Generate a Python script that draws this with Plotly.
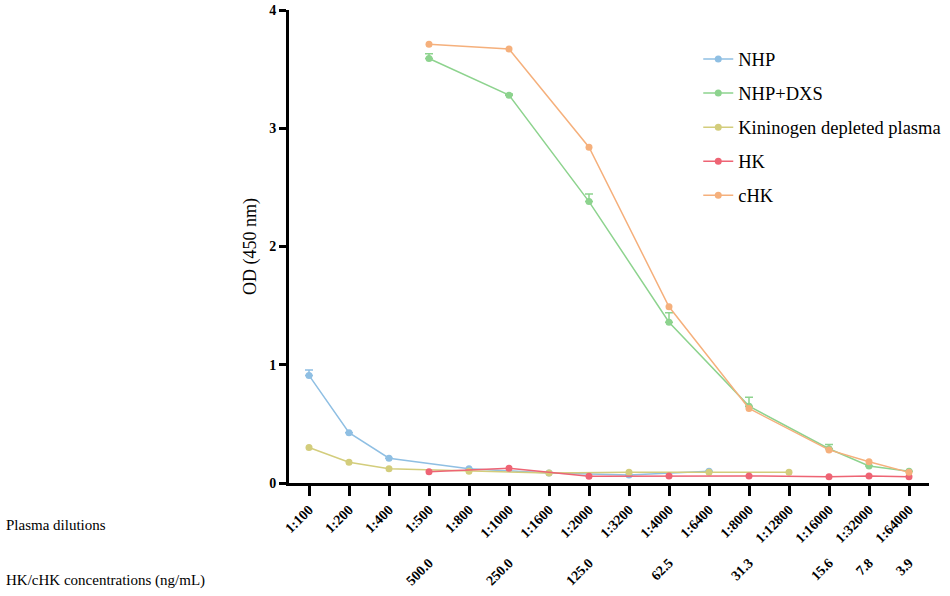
import plotly.graph_objects as go

dilutions = ["1:100", "1:200", "1:400", "1:500", "1:800", "1:1000", "1:1600", "1:2000",
             "1:3200", "1:4000", "1:6400", "1:8000", "1:12800", "1:16000", "1:32000", "1:64000"]
conc_dilutions = ["1:500", "1:1000", "1:2000", "1:4000", "1:8000", "1:16000", "1:32000", "1:64000"]
conc_labels = ["500.0", "250.0", "125.0", "62.5", "31.3", "15.6", "7.8", "3.9"]

N = None
nhp =      [0.91, 0.425, 0.21, N, 0.12, N, 0.085, N, 0.068, N, 0.10, N, N, N, N, N]
nhp_err =  [0.045, 0, 0, N, 0, N, 0, N, 0, N, 0, N, N, N, N, N]
nhp_dxs =  [N, N, N, 3.59, N, 3.28, N, 2.38, N, 1.36, N, 0.65, N, 0.29, 0.144, 0.10]
dxs_err =  [N, N, N, 0.04, N, 0.01, N, 0.065, N, 0.08, N, 0.075, N, 0.035, 0, 0]
kdp =      [0.30, 0.175, 0.12, N, 0.10, N, 0.085, N, 0.09, N, 0.09, N, 0.09, N, N, N]
hk =       [N, N, N, 0.095, N, 0.125, N, 0.057, N, 0.06, N, 0.06, N, 0.053, 0.06, 0.053]
chk =      [N, N, N, 3.71, N, 3.67, N, 2.84, N, 1.49, N, 0.63, N, 0.28, 0.18, 0.09]

series = [
    ("NHP", nhp, nhp_err, "#8fbfe3"),
    ("NHP+DXS", nhp_dxs, dxs_err, "#8dd38e"),
    ("Kininogen depleted plasma", kdp, None, "#d3cd7c"),
    ("HK", hk, None, "#ee6474"),
    ("cHK", chk, None, "#f5b07c"),
]

fig = go.Figure()
for name, ys, err, color in series:
    kw = {}
    if err is not None:
        kw["error_y"] = dict(type="data", array=err, arrayminus=[0 if e is not None else None for e in err],
                             symmetric=False, color=color, thickness=1.5, width=4)
    fig.add_trace(go.Scatter(
        x=dilutions, y=ys, name=name, mode="lines+markers", connectgaps=True,
        legendgroup=name,
        line=dict(color=color, width=1.5),
        marker=dict(color=color, size=7),
        **kw))

# invisible trace carrying the second (concentration) label axis
fig.add_trace(go.Scatter(x=conc_dilutions, y=[None] * len(conc_dilutions), xaxis="x2", yaxis="y",
                         showlegend=False, hoverinfo="skip", mode="markers"))

serif = "Liberation Serif, Times New Roman, serif"

annotations = [
    dict(text="Plasma dilutions", xref="paper", yref="paper", x=(4 - 289) / 640, y=(483 - 525) / 473,
         xanchor="left", yanchor="middle", showarrow=False, font=dict(family=serif, size=15, color="black")),
    dict(text="HK/cHK concentrations (ng/mL)", xref="paper", yref="paper", x=(4 - 289) / 640,
         y=(483 - 580) / 473, xanchor="left", yanchor="middle", showarrow=False,
         font=dict(family=serif, size=15, color="black")),
]

fig.update_layout(
    width=950, height=596,
    margin=dict(l=289, r=21, t=10, b=113, autoexpand=False),
    plot_bgcolor="white", paper_bgcolor="white",
    font=dict(family=serif, color="black"),
    showlegend=True,
    legend=dict(xref="container", yref="container", x=0.735, y=0.932, xanchor="left", yanchor="top",
                font=dict(family=serif, size=18.5), tracegroupgap=7, bgcolor="rgba(0,0,0,0)"),
    annotations=annotations,
    xaxis=dict(type="category", categoryorder="array", categoryarray=dilutions, range=[-0.5, 15.5],
               tickmode="array", tickvals=dilutions, ticktext=["<b>" + d + "</b>" for d in dilutions],
               tickangle=-45, tickfont=dict(family=serif, size=14, color="black"), automargin=False,
               showline=True, linecolor="black", linewidth=3, ticks="outside", ticklen=10, tickwidth=3,
               tickcolor="black", showgrid=False, zeroline=False),
    xaxis2=dict(type="category", categoryorder="array", categoryarray=dilutions, range=[-0.5, 15.5],
                overlaying="x", anchor="y", side="bottom", matches="x",
                tickmode="array", tickvals=conc_dilutions, ticktext=["<b>" + c + "</b>" for c in conc_labels],
                tickangle=-45, tickfont=dict(family=serif, size=14, color="black"), automargin=False,
                ticks="", showline=False, showgrid=False, zeroline=False, ticklabelstandoff=68),
    yaxis=dict(range=[0, 4], tickvals=[0, 1, 2, 3, 4], ticktext=["<b>%d</b>" % v for v in range(5)],
               tickfont=dict(family=serif, size=14, color="black"), automargin=False,
               title=dict(text="OD (450 nm)", font=dict(family=serif, size=18, color="black"), standoff=8),
               showline=True, linecolor="black", linewidth=3, ticks="outside", ticklen=7, tickwidth=3,
               tickcolor="black", showgrid=False, zeroline=False),
)

fig.write_html("out.html", config={"displayModeBar": False},
               post_script="document.body.style.margin='0';document.body.style.overflow='hidden';")
